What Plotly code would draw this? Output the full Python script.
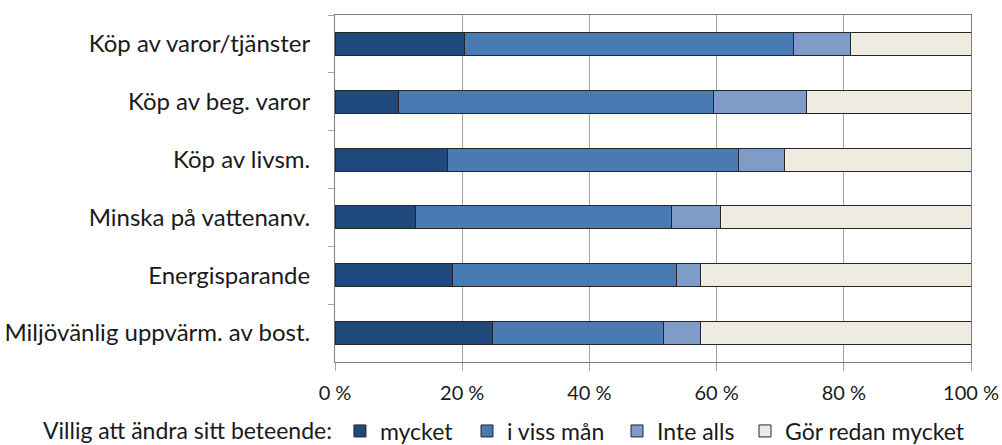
import plotly.graph_objects as go

categories = ["Köp av varor/tjänster", "Köp av beg. varor", "Köp av livsm.",
              "Minska på vattenanv.", "Energisparande", "Miljövänlig uppvärm. av bost."]
series_names = ["mycket", "i viss mån", "Inte alls", "Gör redan mycket"]
mycket = [20.4, 10.0, 17.7, 12.7, 18.4, 24.8]
i_viss_man = [51.7, 49.5, 45.8, 40.2, 35.3, 26.8]
inte_alls = [8.9, 14.7, 7.2, 7.7, 3.7, 5.8]
gor_redan = [19.0, 25.8, 29.3, 39.4, 42.6, 42.6]
colors = ["#1f487c", "#4a7ab2", "#7f9cc8", "#eeece1"]
tick_vals = [0, 20, 40, 60, 80, 100]
tick_text = ["0 %", "20 %", "40 %", "60 %", "80 %", "100 %"]
legend_title = "Villig att ändra sitt beteende:"

font = "Lato"
legend_ids = ["legend", "legend2", "legend3", "legend4"]
legend_x_px = [41, 467, 617, 745]

fig = go.Figure()
for name, vals, col, lid in zip(series_names, [mycket, i_viss_man, inte_alls, gor_redan], colors, legend_ids):
    fig.add_trace(go.Bar(
        y=categories, x=vals, name=name, orientation="h",
        marker=dict(color=col, line=dict(color="#262626", width=1)),
        width=0.4, legend=lid,
    ))

legend_common = dict(
    orientation="h", yref="container", xref="container",
    y=(445 - 431) / 445, xanchor="left", yanchor="middle",
    font=dict(size=23, color="#1a1a1a"), itemwidth=30,
)
layout_legends = {}
for lid, xp in zip(legend_ids, legend_x_px):
    d = dict(legend_common, x=xp / 1002)
    if lid == "legend":
        d["title"] = dict(text=legend_title, side="left", font=dict(size=23, color="#1a1a1a"))
    layout_legends[lid] = d

fig.update_layout(
    barmode="stack",
    width=1002, height=445,
    margin=dict(l=335, r=31, t=15, b=83),
    plot_bgcolor="white", paper_bgcolor="white",
    font=dict(family=font, size=23, color="#1a1a1a"),
    showlegend=True,
    **layout_legends,
)
fig.update_xaxes(
    range=[0, 100], tickvals=tick_vals, ticktext=tick_text,
    showgrid=True, gridcolor="#a6a6a6", gridwidth=1,
    showline=True, linecolor="#7f7f7f", linewidth=1, mirror=True,
    ticks="outside", ticklen=8, tickcolor="#a6a6a6",
    ticklabelstandoff=5, zeroline=False, automargin=False,
    ticklabeloverflow="allow",
    tickfont=dict(size=20),
)
fig.update_yaxes(
    categoryorder="array", categoryarray=categories, autorange="reversed",
    showline=True, linecolor="#7f7f7f", linewidth=1, mirror=True,
    ticks="outside", ticklen=6, tickcolor="#a6a6a6", tickson="boundaries",
    ticklabelstandoff=19, showgrid=False, automargin=False,
    tickfont=dict(size=24),
)
fig.write_html("out.html", config={"displayModeBar": False},
               post_script="document.body.style.margin='0';")
